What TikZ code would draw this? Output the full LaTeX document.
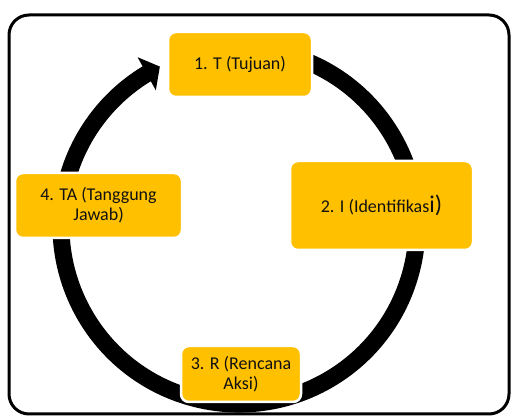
\documentclass[tikz,border=0pt]{standalone}
\usepackage{fontspec}
\setmainfont{Carlito}
\usepackage{xcolor}
\usepackage{tikz}
\usetikzlibrary{arrows.meta,positioning,bending}
\definecolor{amber}{HTML}{FFC000}
\definecolor{ink}{HTML}{111111}
\tikzset{
  stagebox/.style={
    rectangle, rounded corners=8pt, draw=white, fill=amber, line width=2.5pt,
    minimum width=#1, text=ink, align=center,
    font=\fontsize{18}{20}\selectfont, inner sep=3pt
  },
  stagebox/.default=140pt,
  cyclearrow/.style={
    -{Triangle[length=15pt, width=37pt, flex]}, line width=17pt, color=black
  },
  framebox/.style={draw=black, line width=3pt, rounded corners=20pt}
}

\begin{document}
\begin{tikzpicture}[x=1pt, y=1pt]
  \useasboundingbox (0,0) rectangle (511,417);
  % outer frame
  \draw[framebox] (9,3) rectangle (509,402);

  % cycle ring, clockwise
  \coordinate (ctr) at (239,191);
  \draw[cyclearrow] (ctr) ++(72:178) arc[start angle=72, end angle=-243.6, radius=178];

  % stages
  \node[stagebox=144pt, minimum height=65pt] (tujuan) at (240,352.5) {1. T (Tujuan)};
  \node[stagebox=183pt, minimum height=89pt] (identifikasi) at (381.5,211.5)
    {2. I (Identifikas{\fontsize{24}{24}\selectfont i)}};
  \node[stagebox=120pt, minimum height=56pt] (rencana) at (241,43) {3. R (Rencana\\Aksi)};
  \node[stagebox=167pt, minimum height=65pt] (tanggung) at (98.5,211.5) {4. TA (Tanggung\\Jawab)};
\end{tikzpicture}
\end{document}
